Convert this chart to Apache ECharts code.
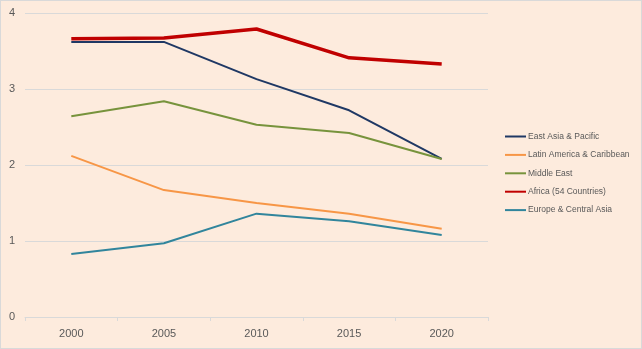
<!DOCTYPE html>
<html><head><meta charset="utf-8">
<script src="https://cdn.jsdelivr.net/npm/echarts@6/dist/echarts.min.js"></script>
<style>html,body{margin:0;padding:0;background:#FDEBDD;}#c{width:642px;height:349px;box-sizing:border-box;border:1px solid #D9D9D9;}</style>
</head><body><div id="c"></div>
<script>
const years = ['2000','2005','2010','2015','2020'];
const eastAsia = [3.62, 3.62, 3.13, 2.72, 2.08];
const latinAmerica = [2.12, 1.67, 1.50, 1.36, 1.16];
const middleEast = [2.64, 2.84, 2.53, 2.42, 2.08];
const africa = [3.66, 3.67, 3.79, 3.41, 3.33];
const europe = [0.83, 0.97, 1.36, 1.26, 1.08];
const yTicks = [0, 1, 2, 3, 4];

const chart = echarts.init(document.getElementById('c'), null, {renderer:'canvas'});
const font = 'Liberation Sans, Arial, sans-serif';
function s(name, data, color, w){
  return {name, type:'line', data, symbol:'none', smooth:false,
    lineStyle:{color, width:w}, itemStyle:{color}, emphasis:{disabled:true}};
}
chart.setOption({
  animation:false,
  backgroundColor:'#FDEBDD',
  grid:{left:24, right:153, top:12, bottom:31, containLabel:false},
  legend:{
    orient:'vertical', left:504, top:131, padding:0, itemGap:9.4, itemWidth:21, itemHeight:2, icon:'rect',
    textStyle:{fontFamily:font, fontSize:8.5, color:'#595959', padding:[0,0,0,-3]},
    data:['East Asia & Pacific','Latin America & Caribbean','Middle East','Africa (54 Countries)','Europe & Central Asia']
  },
  xAxis:{type:'category', data:years, boundaryGap:true,
    axisLine:{lineStyle:{color:'#D9D9D9', width:1}},
    axisTick:{show:true, length:4, lineStyle:{color:'#D9D9D9'}},
    axisLabel:{fontFamily:font, fontSize:11, color:'#595959', margin:11}},
  yAxis:{type:'value', min:yTicks[0], max:yTicks[yTicks.length-1], interval:1,
    axisLine:{show:false}, axisTick:{show:false},
    splitLine:{lineStyle:{color:'#D9D9D9', width:1}},
    axisLabel:{fontFamily:font, fontSize:11, color:'#595959', margin:10}},
  series:[
    s('East Asia & Pacific', eastAsia, '#1F3864', 2),
    s('Latin America & Caribbean', latinAmerica, '#F79646', 2),
    s('Middle East', middleEast, '#77933C', 2),
    s('Africa (54 Countries)', africa, '#C00000', 3.5),
    s('Europe & Central Asia', europe, '#31859C', 2)
  ]
});
</script></body></html>
